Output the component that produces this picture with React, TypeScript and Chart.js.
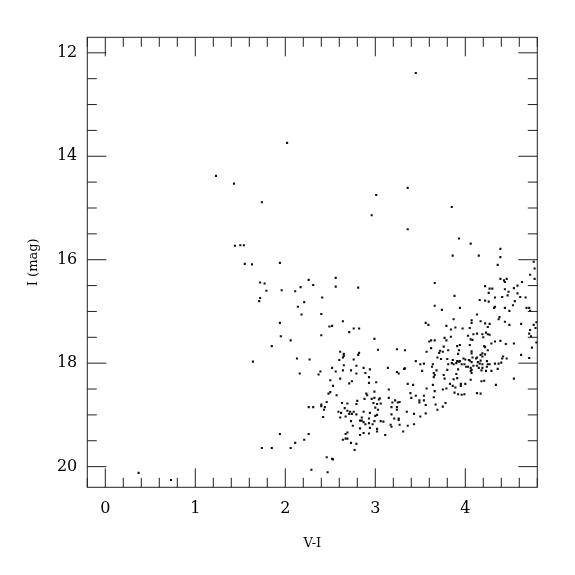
import { useEffect, useRef } from "react";
import { Chart, registerables } from "chart.js";

Chart.register(...registerables);

// V-I colour of each star
const vMinusI: number[] = [
  3.45, 2.02, 1.23, 1.43, 1.74, 3.36, 3.01, 2.96, 3.85, 3.36, 0.37, 0.73,
  1.44, 1.5, 1.54, 1.55, 1.63, 1.94, 1.72, 1.77, 1.79, 1.72, 1.71, 1.96, 2.11, 2.17, 2.26, 2.31, 2.21, 2.14, 2.18, 2.41, 2.4, 2.56, 2.56,
  2.81, 3.66, 3.66,
  3.93, 4.06, 4.39, 3.86, 4.15, 4.39, 4.36, 4.76, 4.77, 4.72, 4.77, 4.39, 4.43, 4.46, 4.44, 4.63, 4.58, 4.22, 4.27, 4.3, 4.44, 4.54, 4.26, 4.48, 4.58, 3.88, 4.41, 4.47, 4.33, 4.61, 4.67, 4.16, 4.22, 4.26, 4.55, 4.53, 4.33, 4.32, 4.44, 4.68, 4.71, 4.72, 4.49, 3.94, 3.74, 4.13, 4.38,
  1.94, 2.49, 2.52, 1.95, 2.06, 2.4, 1.85, 1.64, 2.13, 2.27, 2.16, 2.39, 2.37, 2.52, 2.5, 2.53, 2.5, 2.48, 2.46, 2.4,
  2.64, 2.76, 2.82, 2.71, 3.56, 3.59, 2.99, 3.6, 3.62, 3.66, 3.62, 3.57, 3.71, 3.03, 3.24, 3.33, 2.61, 2.65, 2.65, 2.64, 2.6, 2.82, 2.81, 2.76, 3.45, 3.5, 3.54, 3.52, 3.64, 3.63, 3.69, 2.65, 2.79, 2.87, 2.94, 3.14, 3.32, 3.33, 2.56, 2.64, 2.73, 2.89, 2.79, 3.24, 3.26, 3.68, 3.65, 3.66, 3.65, 2.93, 2.61, 2.74, 2.71, 2.93, 3.01, 3.36, 3.42, 3.64, 3.15, 3.57, 3.66, 3.39, 2.9, 2.91, 2.99, 2.57, 3.45, 3.54, 3.4, 3.65, 2.99, 3.04, 3.05, 2.96, 2.88, 3.15, 2.8, 2.79, 2.63, 2.69, 3.22, 3.25, 3.27, 3.19, 2.98, 3.02, 3.06, 3.49, 3.54, 3.49, 3.67, 3.56,
  3.87, 4.07, 4.07, 4.17, 4.22, 4.27, 4.37, 4.44, 4.49, 4.62, 4.76, 4.79, 4.78, 3.79, 3.89, 3.84, 3.97, 4.05, 4.25, 4.72, 4.71, 4.73, 4.13, 4.19, 4.23, 4.25, 4.27, 4.09, 4.2, 4.03, 3.77, 3.84, 4.06, 4.08, 3.79, 4.33, 4.39, 4.29, 4.45, 4.54, 4.79, 3.94, 3.91, 4.05, 4.21, 4.22, 3.76, 4.74, 3.93, 4.25, 3.72, 3.75, 3.81, 4.07, 4.07, 3.92, 4.19, 4.22, 4.17, 4.62, 3.73, 3.8, 3.86, 3.91, 3.94, 3.98, 4.0, 4.04, 4.08, 4.12, 4.13, 4.19, 4.42, 4.41, 4.46, 4.71, 3.81, 3.85, 3.87, 3.9, 3.93, 3.96, 3.99, 4.05, 4.07, 4.14, 4.17, 4.16, 4.19, 4.24, 4.25, 4.27, 4.33, 4.37, 4.4, 4.03, 4.06, 4.09, 4.01, 4.13, 4.15, 4.19, 4.24, 3.92, 3.8, 4.07, 4.06, 4.18, 4.23, 4.29, 4.36, 3.9, 4.07, 3.76, 3.77, 3.87, 3.91, 4.06, 4.18, 4.21, 4.54, 3.83, 3.86, 3.89, 3.95, 4.0, 3.95, 4.34, 3.79, 3.75, 3.88, 3.92, 3.96, 3.99, 4.13, 4.17, 3.78,
  2.26, 2.31, 2.4, 2.44, 2.43, 2.42, 1.94, 2.26, 2.11, 2.21, 2.06, 1.74, 1.85, 2.46, 2.52, 2.53, 2.29, 2.47,
  2.59, 2.62, 2.66, 2.69, 2.72, 2.74, 2.76, 2.79, 2.71, 2.61, 2.67, 2.73, 2.87, 2.94, 3.0, 3.03, 3.02, 3.0, 2.85, 2.93, 2.83, 2.85, 2.87, 2.89, 2.93, 2.97, 2.99, 3.06, 3.09, 2.75, 3.17, 3.18, 2.94, 2.83, 3.02, 3.02, 2.87, 2.93, 2.83, 2.69, 2.67, 3.11, 2.67, 2.69, 2.64, 2.73, 2.79, 2.77, 3.18, 3.24, 3.24, 3.35, 3.43, 3.18, 3.21, 3.26, 3.26, 3.5, 3.56, 3.69, 3.27, 3.36, 3.43, 3.31, 3.75,
];

// I magnitude of each star
const iMag: number[] = [
  12.39, 13.74, 14.38, 14.53, 14.89, 14.61, 14.75, 15.14, 14.98, 15.41, 20.12, 20.26,
  15.73, 15.72, 15.72, 16.08, 16.09, 16.06, 16.44, 16.46, 16.6, 16.74, 16.8, 16.59, 16.61, 16.53, 16.39, 16.49, 16.82, 16.91, 17.06, 16.73, 17.05, 16.35, 16.52,
  16.54, 16.45, 16.89,
  15.59, 15.69, 15.79, 15.92, 15.92, 15.95, 16.1, 16.04, 16.17, 16.29, 16.37, 16.37, 16.4, 16.37, 16.43, 16.43, 16.5, 16.51, 16.56, 16.56, 16.57, 16.55, 16.64, 16.62, 16.65, 16.7, 16.72, 16.69, 16.73, 16.72, 16.73, 16.78, 16.79, 16.81, 16.8, 16.88, 16.91, 16.93, 16.93, 16.93, 16.93, 16.99, 16.99, 16.93, 16.97, 17.06, 17.11,
  17.22, 17.29, 17.28, 17.48, 17.56, 17.46, 17.67, 17.97, 17.91, 17.93, 18.2, 18.16, 18.22, 18.09, 18.33, 18.44, 18.56, 18.59, 18.75, 18.8,
  17.19, 17.33, 17.33, 17.4, 17.22, 17.26, 17.53, 17.58, 17.56, 17.56, 17.71, 17.78, 17.8, 17.74, 17.73, 17.75, 17.78, 17.82, 17.86, 17.89, 17.94, 17.8, 17.84, 17.93, 17.96, 18.02, 18.01, 18.15, 18.02, 18.07, 17.89, 18.04, 18.05, 18.09, 18.12, 18.09, 18.11, 18.1, 18.16, 18.14, 18.14, 18.19, 18.2, 18.17, 18.2, 18.14, 18.19, 18.23, 18.27, 18.27, 18.3, 18.35, 18.39, 18.38, 18.37, 18.4, 18.42, 18.42, 18.51, 18.49, 18.54, 18.58, 18.59, 18.62, 18.55, 18.62, 18.63, 18.63, 18.67, 18.66, 18.67, 18.7, 18.68, 18.69, 18.69, 18.67, 18.73, 18.79, 18.77, 18.78, 18.72, 18.76, 18.75, 18.76, 18.77, 18.79, 18.78, 18.72, 18.72, 18.76, 18.8, 18.81,
  17.15, 17.17, 17.22, 17.19, 17.23, 17.24, 17.15, 17.2, 17.26, 17.24, 17.26, 17.21, 17.32, 17.28, 17.31, 17.35, 17.33, 17.32, 17.3, 17.36, 17.43, 17.48, 17.43, 17.44, 17.41, 17.44, 17.45, 17.44, 17.5, 17.47, 17.51, 17.49, 17.54, 17.55, 17.56, 17.58, 17.57, 17.62, 17.63, 17.62, 17.6, 17.65, 17.67, 17.65, 17.67, 17.69, 17.68, 17.7, 17.75, 17.75, 17.76, 17.78, 17.75, 17.77, 17.81, 17.82, 17.81, 17.83, 17.84, 17.84, 17.92, 17.92, 17.94, 17.96, 17.96, 17.91, 17.93, 17.94, 17.89, 17.91, 17.89, 17.87, 17.87, 17.91, 17.91, 17.9, 18.02, 18.0, 18.02, 18.0, 17.97, 18.02, 18.02, 17.95, 17.98, 17.98, 17.95, 18.01, 18.02, 17.96, 18.02, 18.02, 18.01, 18.01, 17.99, 18.07, 18.09, 18.05, 18.07, 18.05, 18.09, 18.09, 18.07, 18.12, 18.13, 18.13, 18.15, 18.14, 18.15, 18.15, 18.11, 18.21, 18.19, 18.23, 18.3, 18.31, 18.29, 18.32, 18.35, 18.34, 18.3, 18.4, 18.44, 18.47, 18.4, 18.4, 18.44, 18.42, 18.49, 18.51, 18.57, 18.6, 18.61, 18.6, 18.58, 18.59, 18.77,
  18.85, 18.85, 18.83, 18.85, 18.9, 19.04, 19.37, 19.37, 19.54, 19.48, 19.64, 19.64, 19.64, 19.82, 19.85, 19.86, 20.06, 20.11,
  18.94, 18.96, 18.87, 18.92, 18.94, 18.98, 18.94, 18.99, 18.98, 19.05, 19.03, 19.12, 18.94, 18.96, 18.86, 18.9, 19.0, 19.02, 19.05, 19.07, 19.11, 19.11, 19.14, 19.18, 19.16, 19.18, 19.12, 19.12, 19.13, 19.21, 19.19, 19.23, 19.25, 19.26, 19.27, 19.32, 19.35, 19.36, 19.39, 19.34, 19.37, 19.39, 19.46, 19.46, 19.48, 19.54, 19.56, 19.68, 18.85, 18.85, 18.9, 18.94, 18.98, 18.99, 19.07, 19.07, 19.1, 19.03, 18.97, 18.9, 19.19, 19.21, 19.18, 19.32, 18.84,
];

const xTickLabels = [0, 1, 2, 3, 4];
const yTickLabels = [12, 14, 16, 18, 20];

const X_MIN = -0.2;
const X_MAX = 4.8;
const Y_MIN = 11.7;
const Y_MAX = 20.4;

const SERIF = "'DejaVu Serif', 'Liberation Serif', serif";

const framePlugin = {
  id: "frameTicks",
  afterDraw(chart: any) {
    const { ctx, chartArea: a, scales } = chart;
    const x = scales.x;
    const y = scales.y;
    ctx.save();
    ctx.strokeStyle = "#222";
    ctx.lineWidth = 1;
    ctx.strokeRect(a.left, a.top, a.right - a.left, a.bottom - a.top);
    ctx.beginPath();
    for (let i = 0; i <= 25; i++) {
      const v = X_MIN + i * 0.2;
      const major = Math.abs(v - Math.round(v)) < 1e-6;
      const len = major ? 19 : 9.5;
      const px = x.getPixelForValue(v);
      ctx.moveTo(px, a.bottom);
      ctx.lineTo(px, a.bottom - len);
      ctx.moveTo(px, a.top);
      ctx.lineTo(px, a.top + len);
    }
    for (let i = 0; i <= 16; i++) {
      const v = 12 + i * 0.5;
      const major = Math.abs(v / 2 - Math.round(v / 2)) < 1e-6;
      const len = major ? 19 : 9.5;
      const py = y.getPixelForValue(v);
      ctx.moveTo(a.left, py);
      ctx.lineTo(a.left + len, py);
      ctx.moveTo(a.right, py);
      ctx.lineTo(a.right - len, py);
    }
    ctx.stroke();
    ctx.restore();
  },
};

export default function App() {
  const ref = useRef<HTMLCanvasElement>(null);
  useEffect(() => {
    const points = vMinusI.map((v, i) => ({ x: v, y: iMag[i] }));
    const chart = new Chart(ref.current as HTMLCanvasElement, {
      type: "scatter",
      data: {
        datasets: [
          {
            data: points,
            pointStyle: "rect",
            pointRadius: 1.5,
            pointBackgroundColor: "#111",
            pointBorderWidth: 0,
            showLine: false,
          },
        ],
      },
      options: {
        animation: false,
        responsive: false,
        devicePixelRatio: 1,
        layout: { padding: { left: 0, top: 37.3, right: 37.7, bottom: 0 } },
        plugins: { legend: { display: false }, tooltip: { enabled: false } },
        scales: {
          x: {
            type: "linear",
            min: X_MIN,
            max: X_MAX,
            grid: { display: false, drawTicks: false },
            border: { display: false },
            afterBuildTicks: (s: any) => {
              s.ticks = xTickLabels.map((v) => ({ value: v }));
            },
            afterFit: (s: any) => {
              s.height = 87.7;
            },
            ticks: {
              padding: 12,
              color: "#000",
              font: { family: SERIF, size: 16 },
              maxRotation: 0,
            },
            title: {
              display: true,
              text: "V-I",
              color: "#000",
              font: { family: SERIF, size: 13 },
              padding: { top: 0, bottom: 24 },
            },
          },
          y: {
            type: "linear",
            reverse: true,
            min: Y_MIN,
            max: Y_MAX,
            grid: { display: false, drawTicks: false },
            border: { display: false },
            afterBuildTicks: (s: any) => {
              s.ticks = yTickLabels.map((v) => ({ value: v }));
            },
            afterFit: (s: any) => {
              s.width = 87.3;
            },
            ticks: {
              padding: 10,
              color: "#000",
              font: { family: SERIF, size: 16 },
            },
            title: {
              display: true,
              text: "I (mag)",
              color: "#000",
              font: { family: SERIF, size: 13 },
              padding: { top: 26, bottom: 0 },
            },
          },
        },
      },
      plugins: [framePlugin],
    });
    return () => chart.destroy();
  }, []);
  return (
    <div style={{ position: "absolute", left: 0, top: 0, width: 575, height: 575, background: "#fff" }}>
      <canvas ref={ref} width={575} height={575} style={{ width: 575, height: 575, display: "block" }} />
    </div>
  );
}
